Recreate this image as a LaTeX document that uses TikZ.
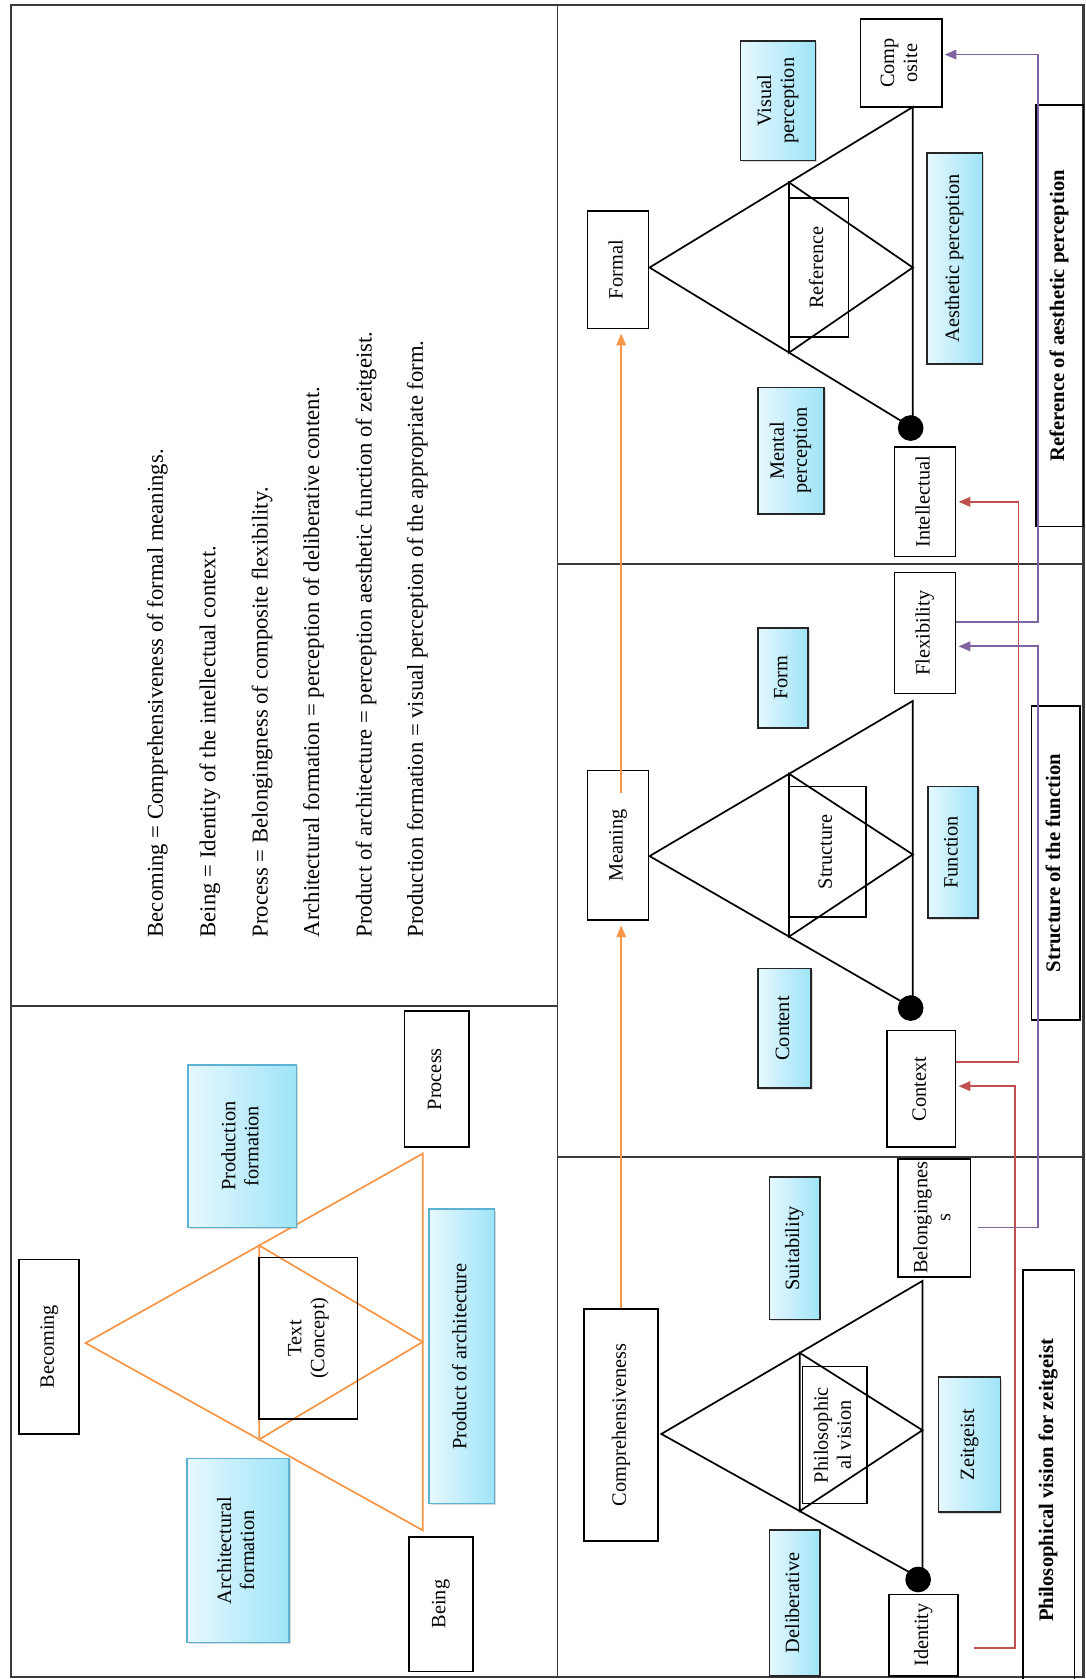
\documentclass[tikz,border=0pt]{standalone}
\usepackage{fontspec}
\setmainfont{Liberation Serif}
\usetikzlibrary{arrows.meta,shadows,calc}
\definecolor{cyL}{HTML}{E6F8FE}
\definecolor{cyR}{HTML}{9FE4F8}
\definecolor{orng}{HTML}{F79646}
\definecolor{rd}{HTML}{C0504D}
\definecolor{prp}{HTML}{8064A2}
\definecolor{lbord}{HTML}{5DB1D2}
\definecolor{frm}{HTML}{3A3A3A}
\newcommand\rtx[1]{\rotatebox{90}{\begin{tabular}{@{}c@{}}#1\end{tabular}}}
\newcommand\mybox[7]{\node[#2, minimum width={#5pt-#3pt}, minimum height={#6pt-#4pt}] (#1) at ({(#3+#5)/2},{(#4+#6)/2}) {\rtx{#7}};}
\tikzset{
  framel/.style={draw=frm, line width=2pt},
  divl/.style={draw=frm, line width=1.6pt},
  lbl/.style={font=\fontsize{19}{21.5}\selectfont},
  wbox/.style={draw=black, line width=1.6pt, inner sep=0pt, lbl},
  cbox/.style={draw=black!85, line width=1.6pt, inner sep=0pt, left color=cyL, right color=cyR,
     drop shadow={shadow xshift=1.5pt, shadow yshift=-1.5pt, opacity=0.3}, lbl},
  lcbox/.style={cbox, draw=lbord},
  bbox/.style={draw=black, line width=1.6pt, inner sep=0pt, font=\fontsize{19.3}{21}\selectfont\bfseries},
  legend/.style={inner sep=0pt, rotate=90, anchor=west, font=\fontsize{21.2}{25}\selectfont},
  tri/.style={draw=black, line width=1.6pt, line join=miter},
  otri/.style={draw=orng, line width=1.6pt},
  oarr/.style={draw=orng, line width=1.5pt, -{Triangle[length=11pt,width=9pt]}, shorten >=4pt},
  rarr/.style={draw=rd, line width=1.6pt, -{Triangle[length=11pt,width=9pt]}, shorten >=2pt},
  parr/.style={draw=prp, line width=1.6pt, -{Triangle[length=11pt,width=9pt]}, shorten >=2pt},
  dotn/.style={circle, fill=black, inner sep=0pt, minimum size=24pt},
}
\begin{document}
\begin{tikzpicture}[x=1pt,y=-1pt]
\useasboundingbox (0,0) rectangle (1014,1569);
\fill[white] (0,0) rectangle (1014,1569);
% frame and dividers
\draw[framel] (10,5) rectangle (1012.5,1567);
\draw[divl] (521,5) -- (521,1567);
\draw[divl] (10,940) -- (521,940);
\draw[divl] (521,527) -- (1012.5,527);
\draw[divl] (521,1081) -- (1012.5,1081);

% legend
\node[legend] (l1) at (147,876) {Becoming = Comprehensiveness of formal meanings.};
\node[legend] (l2) at (196,876) {Being = Identity of the intellectual context.};
\node[legend] (l3) at (245,876) {Process = Belongingness of composite flexibility.};
\node[legend] (l4) at (293,876) {Architectural formation = perception of deliberative content.};
\node[legend] (l5) at (342,876) {Product of architecture = perception aesthetic function of zeitgeist.};
\node[legend] (l6) at (390,876) {Production formation = visual perception of the appropriate form.};

% ---------- triangles ----------
\coordinate (oa) at (80,1255); \coordinate (ob) at (395,1078); \coordinate (oc) at (395,1430);
\draw[otri] (oa) -- (ob) -- (oc) -- cycle;
\draw[otri] ($(oa)!0.515!(ob)$) -- ($(ob)!0.5!(oc)$) -- ($(oa)!0.515!(oc)$) -- cycle;

\coordinate (a1) at (607,250); \coordinate (b1) at (853,100); \coordinate (c1) at (853,400);
\draw[tri] (a1) -- (b1) -- (c1) -- cycle;
\draw[tri] ($(a1)!0.53!(b1)$) -- ($(b1)!0.5!(c1)$) -- ($(a1)!0.53!(c1)$) -- cycle;

\coordinate (a2) at (607,800); \coordinate (b2) at (853,655); \coordinate (c2) at (853,942);
\draw[tri] (a2) -- (b2) -- (c2) -- cycle;
\draw[tri] ($(a2)!0.53!(b2)$) -- ($(b2)!0.5!(c2)$) -- ($(a2)!0.53!(c2)$) -- cycle;

\coordinate (a3) at (618,1340); \coordinate (b3) at (862,1197); \coordinate (c3) at (862,1476);
\draw[tri] (a3) -- (b3) -- (c3) -- cycle;
\draw[tri] ($(a3)!0.53!(b3)$) -- ($(b3)!0.5!(c3)$) -- ($(a3)!0.53!(c3)$) -- cycle;

\node[dotn] (d1) at (851,400) {};
\node[dotn] (d2) at (851,942) {};
\node[dotn] (d3) at (858,1476) {};

% ---------- lower-left panel ----------
\mybox{becoming}{wbox}{18}{1177}{74}{1340}{Becoming}
\mybox{archform}{lcbox}{175}{1363}{270}{1535}{Architectural\\formation}
\mybox{prodform}{lcbox}{176}{995}{277}{1147}{Production\\formation}
\mybox{concept}{wbox}{242}{1175}{334}{1326}{Text\\(Concept)}
\mybox{product}{lcbox}{401}{1130}{462}{1405}{Product of architecture}
\mybox{process}{wbox}{378}{945}{438}{1072}{Process}
\mybox{being}{wbox}{382}{1436}{442}{1562}{Being}

% ---------- top-right panel ----------
\mybox{formal}{wbox}{549}{197}{606}{307}{Formal}
\mybox{reference}{wbox}{737}{185}{793}{315}{Reference}
\mybox{composite}{wbox}{804}{18}{880}{100}{Comp\\osite}
\mybox{visual}{cbox}{692}{38}{762}{150}{Visual\\perception}
\mybox{aesthetic}{cbox}{866}{143}{918}{340}{Aesthetic perception}
\mybox{mental}{cbox}{708}{362}{770}{480}{Mental\\perception}
\mybox{intellectual}{wbox}{836}{418}{893}{520}{Intellectual}
\mybox{refaes}{bbox}{968}{98}{1012.5}{492}{Reference of aesthetic perception}

% ---------- middle-right panel ----------
\mybox{meaning}{wbox}{549}{720}{606}{860}{Meaning}
\mybox{structure}{wbox}{737}{735}{809}{857}{Structure}
\mybox{form}{cbox}{708}{587}{755}{680}{Form}
\mybox{function}{cbox}{867}{735}{914}{858}{Function}
\mybox{content}{cbox}{708}{905}{758}{1017}{Content}
\mybox{flexibility}{wbox}{836}{535}{893}{648}{Flexibility}
\mybox{context}{wbox}{829}{963}{893}{1072}{Context}
\mybox{structfn}{bbox}{964}{660}{1009}{953}{Structure of the function}

% ---------- bottom-right panel ----------
\mybox{comp}{wbox}{546}{1223}{615}{1440}{Comprehensiveness}
\mybox{philvis}{wbox}{750}{1277}{810}{1405}{Philosophic\\al vision}
\mybox{suitability}{cbox}{719}{1100}{766}{1233}{Suitability}
\mybox{belong}{wbox}{839}{1083}{907}{1193}{Belongingnes\\s}
\mybox{zeitgeist}{cbox}{877}{1287}{935}{1413}{Zeitgeist}
\mybox{deliberative}{cbox}{719}{1430}{766}{1566}{Deliberative}
\mybox{identity}{wbox}{831}{1490}{895}{1566}{Identity}
\mybox{philzeit}{bbox}{956}{1187}{1004}{1580}{Philosophical vision for zeitgeist}

% ---------- connectors ----------
\draw[oarr] (comp.north) -- (comp.north |- meaning.south);
\draw[oarr] ([yshift=-22pt]comp.north |- meaning.north) -- (comp.north |- formal.south);

\draw[rarr] ([yshift=-30pt]context.north east) -- ++(58,0) |- (intellectual.east);
\draw[rarr] ([shift={(14pt,-12pt)}]identity.east) -- ++(39,0) |- ([yshift=2.5pt]context.east);

\draw[parr] ([yshift=10pt]flexibility.east) -- ++(76,0) |- ([yshift=8pt]composite.east);
\draw[parr] ([shift={(6pt,-9pt)}]belong.east) -- ++(56,0) |- ([yshift=-12.5pt]flexibility.east);
\end{tikzpicture}
\end{document}
